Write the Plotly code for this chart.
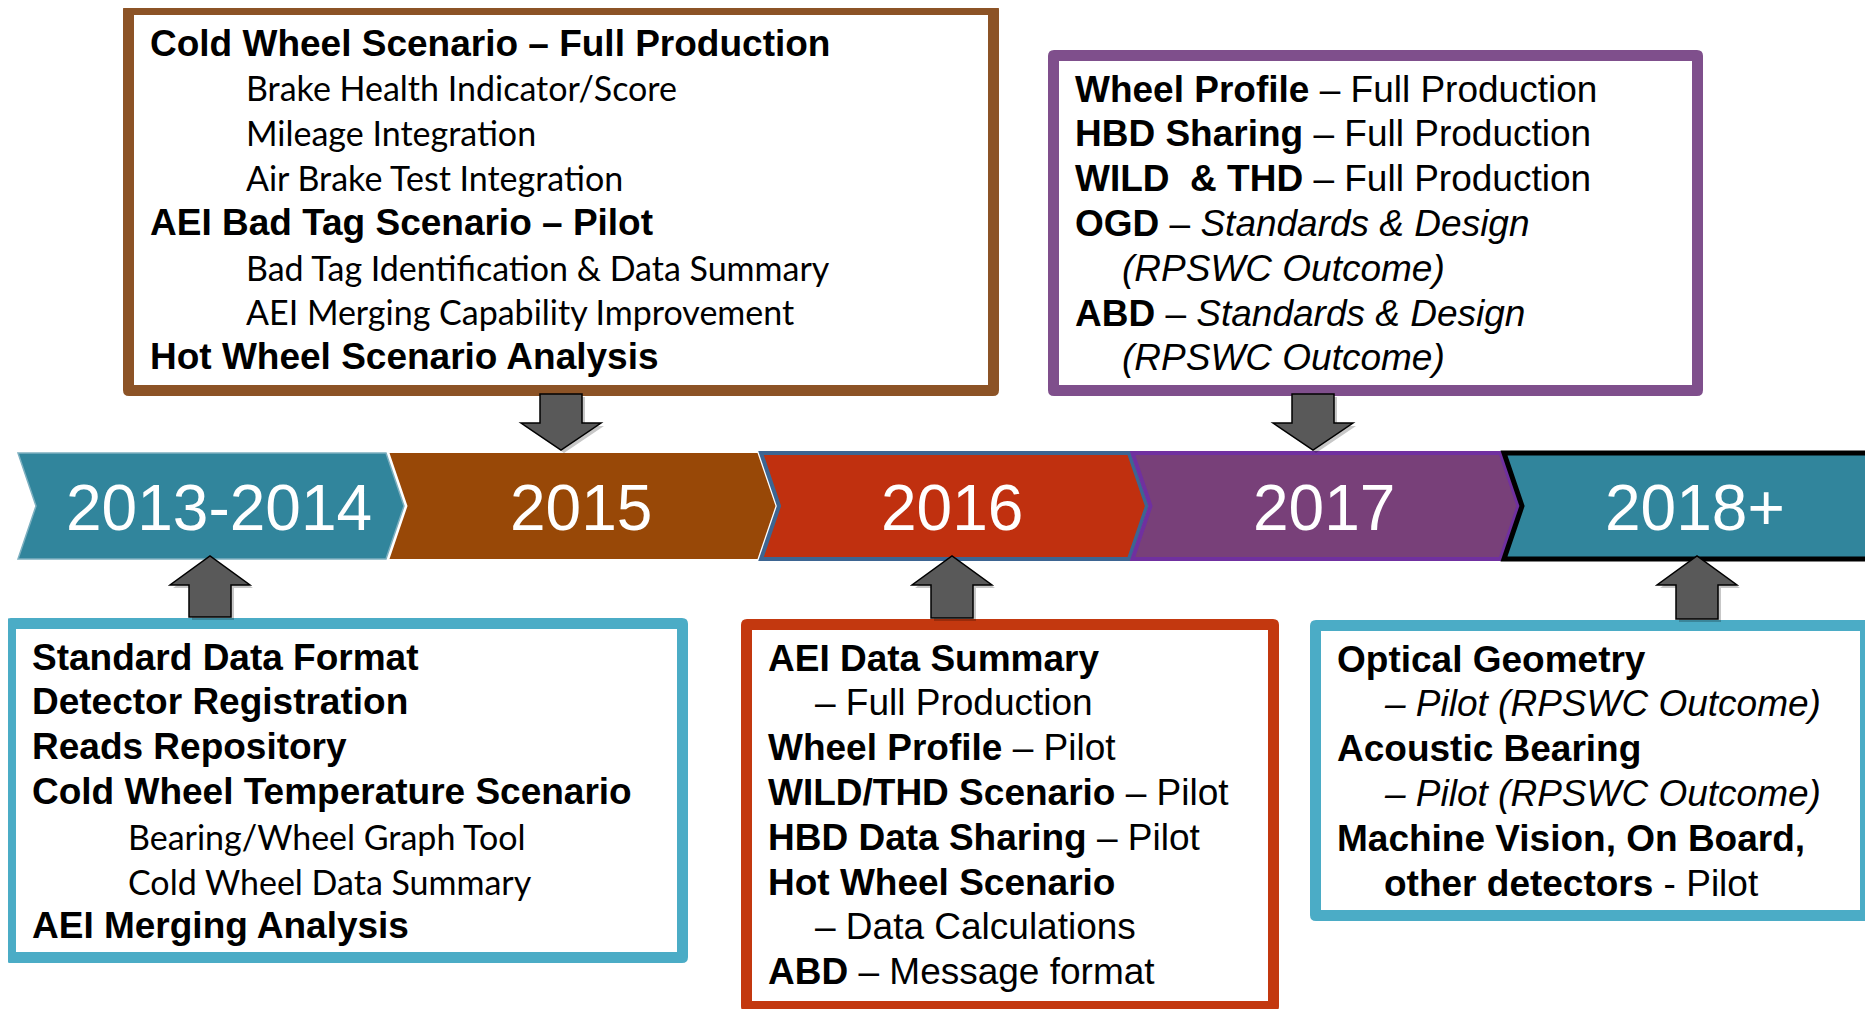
import plotly.graph_objects as go

W, H = 1873, 1009
PAGE_PAD = 8  # default body margin of the html page

# timeline segments
YEARS = ["2013-2014", "2015", "2016", "2017", "2018+"]
SEG_FILL = ["#31859C", "#984807", "#C0300F", "#784079", "#31859C"]
SEG_EDGE = ["#7DB0C0", "#984807", "#3D6592", "#7030A0", "#000000"]
SEG_EDGE_W = [1.5, 0, 4, 4, 5]

# call-out boxes: 0 = heading line, "s" = sub item, "c" = continuation
BOX_2015 = [
    ("<b>Cold Wheel Scenario – Full Production</b>", 0),
    ("Brake Health Indicator/Score", "s"),
    ("Mileage Integration", "s"),
    ("Air Brake Test Integration", "s"),
    ("<b>AEI Bad Tag Scenario – Pilot</b>", 0),
    ("Bad Tag Identification &amp; Data Summary", "s"),
    ("AEI Merging Capability Improvement", "s"),
    ("<b>Hot Wheel Scenario Analysis</b>", 0),
]
BOX_2017 = [
    ("<b>Wheel Profile</b> – Full Production", 0),
    ("<b>HBD Sharing</b> – Full Production", 0),
    ("<b>WILD\u00a0 &amp; THD</b> – Full Production", 0),
    ("<b>OGD</b> – <i>Standards &amp; Design</i>", 0),
    ("<i>(RPSWC Outcome)</i>", "c"),
    ("<b>ABD</b> – <i>Standards &amp; Design</i>", 0),
    ("<i>(RPSWC Outcome)</i>", "c"),
]
BOX_2013 = [
    ("<b>Standard Data Format</b>", 0),
    ("<b>Detector Registration</b>", 0),
    ("<b>Reads Repository</b>", 0),
    ("<b>Cold Wheel Temperature Scenario</b>", 0),
    ("Bearing/Wheel Graph Tool", "s"),
    ("Cold Wheel Data Summary", "s"),
    ("<b>AEI Merging Analysis</b>", 0),
]
BOX_2016 = [
    ("<b>AEI Data Summary</b>", 0),
    ("– Full Production", "c"),
    ("<b>Wheel Profile</b> – Pilot", 0),
    ("<b>WILD/THD Scenario</b> – Pilot", 0),
    ("<b>HBD Data Sharing</b> – Pilot", 0),
    ("<b>Hot Wheel Scenario</b>", 0),
    ("– Data Calculations", "c"),
    ("<b>ABD</b> – Message format", 0),
]
BOX_2018 = [
    ("<b>Optical Geometry</b>", 0),
    ("<i>– Pilot (RPSWC Outcome)</i>", "c"),
    ("<b>Acoustic Bearing</b>", 0),
    ("<i>– Pilot (RPSWC Outcome)</i>", "c"),
    ("<b>Machine Vision, On Board,</b>", 0),
    ("<b>other detectors</b> - Pilot", "c"),
]

BOX_LINES = [BOX_2015, BOX_2017, BOX_2013, BOX_2016, BOX_2018]
BOX_EDGE = ["#8C5326", "#7F4F8C", "#4BACC6", "#C3380F", "#4BACC6"]
BOX_RECT = [
    (123, 4, 999, 396),
    (1048, 50, 1703, 396),
    (5, 618, 688, 963),
    (741, 619, 1279, 1012),
    (1310, 620, 1871, 921),
]
ARROW_X = [561, 1313, 210, 952, 1697]

# band geometry
BAND_TOP, BAND_BOT = 453, 559
SEG_X0, SEG_STEP, SEG_W, SEG_D = 18, 371.5, 368, 18
BORDER = 11
LINE_GAP = 44.8
FONT_MAIN = "Liberation Sans, Arial, sans-serif"
FONT_SUB = "Lato, Calibri, sans-serif"


def rrect(x0, y0, x1, y1, r):
    return (f"M{x0+r},{y0} L{x1-r},{y0} Q{x1},{y0} {x1},{y0+r} "
            f"L{x1},{y1-r} Q{x1},{y1} {x1-r},{y1} L{x0+r},{y1} "
            f"Q{x0},{y1} {x0},{y1-r} L{x0},{y0+r} Q{x0},{y0} {x0+r},{y0} Z")


def arrow(cx, y_start, y_head, y_tip, sw=21, hw=40):
    return (f"M{cx-sw},{y_start} L{cx+sw},{y_start} L{cx+sw},{y_head} "
            f"L{cx+hw},{y_head} L{cx},{y_tip} L{cx-hw},{y_head} L{cx-sw},{y_head} Z")


fig = go.Figure()
shapes = []
annotations = []

mid = (BAND_TOP + BAND_BOT) / 2
for i, year in enumerate(YEARS):
    x0 = SEG_X0 + SEG_STEP * i
    x1 = x0 + SEG_W
    path = (f"M{x0},{BAND_TOP} L{x1},{BAND_TOP} L{x1+SEG_D},{mid} L{x1},{BAND_BOT} "
            f"L{x0},{BAND_BOT} L{x0+SEG_D},{mid} Z")
    shapes.append(dict(type="path", path=path, xref="x", yref="y",
                       fillcolor=SEG_FILL[i],
                       line=dict(color=SEG_EDGE[i], width=SEG_EDGE_W[i])))
    # first label sits a little right of centre in the original
    lx = x0 + (SEG_W + SEG_D) / 2 + (8 if i == 0 else -2)
    annotations.append(dict(x=lx, y=mid + 2, text=year,
                            showarrow=False, xanchor="center", yanchor="middle",
                            font=dict(family=FONT_MAIN, size=64, color="white")))

for k, lines in enumerate(BOX_LINES):
    bx0, by0, bx1, by1 = BOX_RECT[k]
    shapes.append(dict(type="path", path=rrect(bx0, by0, bx1, by1, 6), xref="x", yref="y",
                       fillcolor=BOX_EDGE[k], line=dict(width=0)))
    shapes.append(dict(type="rect", x0=bx0 + BORDER, y0=by0 + BORDER,
                       x1=bx1 - BORDER, y1=by1 - BORDER, xref="x", yref="y",
                       fillcolor="white", line=dict(width=0)))

    # connector arrow between box and band
    cx = ARROW_X[k]
    if by1 < BAND_TOP:
        ys = (by1 - 2, BAND_TOP - 30, BAND_TOP - 3)
    else:
        ys = (by0 - 1, BAND_BOT + 26, BAND_BOT - 3)
    shapes.append(dict(type="path", path=arrow(cx + 3, *(y + 3 for y in ys)),
                       xref="x", yref="y",
                       fillcolor="rgba(0,0,0,0.22)", line=dict(width=0)))
    shapes.append(dict(type="path", path=arrow(cx, *ys), xref="x", yref="y",
                       fillcolor="#595959", line=dict(color="#000000", width=1.5)))

    tx = bx0 + 25
    for j, (txt, lvl) in enumerate(lines):
        y = by0 + 39 + LINE_GAP * j
        if lvl == "s":
            x, fam, size = tx + 96, FONT_SUB, 34
        elif lvl == "c":
            x, fam, size = tx + 47, FONT_MAIN, 37
        else:
            x, fam, size = tx, FONT_MAIN, 37
        annotations.append(dict(x=x, y=y, text=txt, showarrow=False,
                                xanchor="left", yanchor="middle",
                                font=dict(family=fam, size=size, color="black")))

fig.update_layout(
    width=W - PAGE_PAD, height=H - PAGE_PAD,
    margin=dict(l=0, r=0, t=0, b=0),
    paper_bgcolor="white", plot_bgcolor="white",
    xaxis=dict(range=[PAGE_PAD, W], visible=False, fixedrange=True),
    yaxis=dict(range=[H, PAGE_PAD], visible=False, fixedrange=True),
    shapes=shapes, annotations=annotations,
    showlegend=False,
)
fig.write_html("out.html")
